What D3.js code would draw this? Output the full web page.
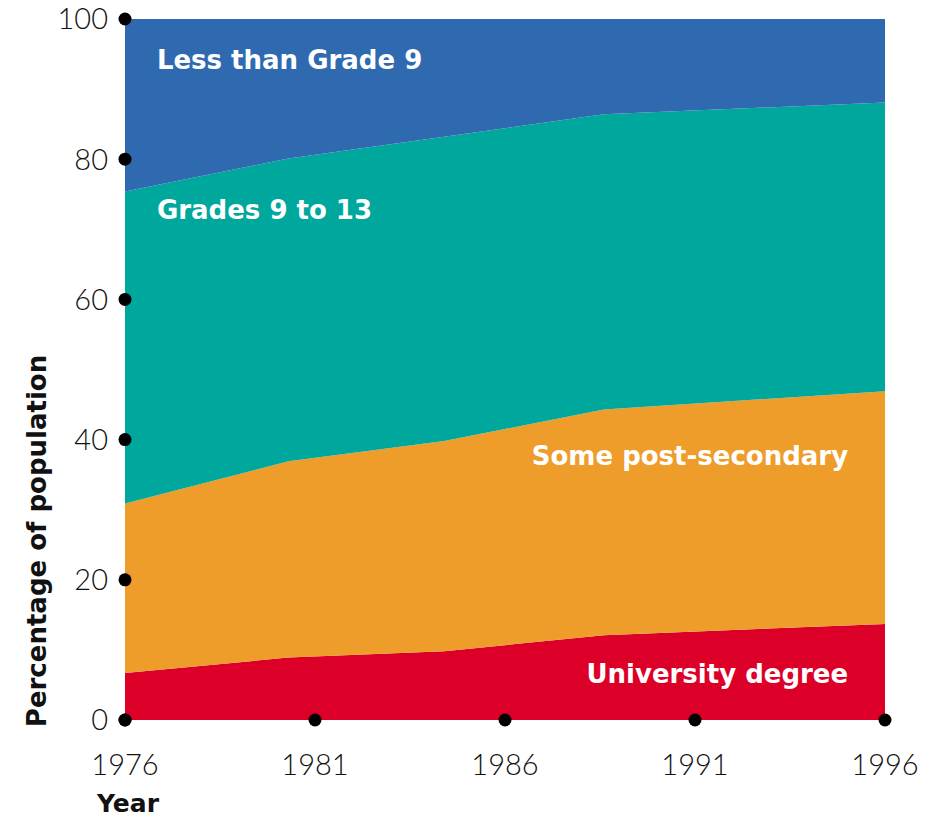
<!DOCTYPE html>
<html>
<head>
<meta charset="utf-8">
<script src="https://cdn.jsdelivr.net/npm/d3@7"></script>
<style>
  body { margin: 0; background: #fff; }
  .tick-label { font-family: Lato, "Open Sans", sans-serif; font-weight: 300; font-size: 29px; fill: #111; }
  .axis-title { font-family: "DejaVu Sans", sans-serif; font-weight: bold; font-size: 25px; fill: #111; }
  .area-label { font-family: "DejaVu Sans", sans-serif; font-weight: bold; font-size: 26px; fill: #fff; }
</style>
</head>
<body>
<svg id="chart" width="932" height="818"></svg>
<script>
// years at which the boundaries bend
const years = [1976, 1980.3, 1984.4, 1988.6, 1996];
const university = [6.7, 8.9, 9.8, 12.1, 13.7];
const somePostSecondary = [24.2, 28.0, 30.0, 32.2, 33.2];
const grades9to13 = [44.5, 43.2, 43.4, 42.1, 41.2];
const lessThanGrade9 = [24.6, 19.9, 16.8, 13.6, 11.9];

const seriesKeys = ["university", "post", "grades", "less"];
const seriesNames = ["University degree", "Some post-secondary", "Grades 9 to 13", "Less than Grade 9"];
const seriesColors = ["#dc0028", "#ee9c2a", "#00a79d", "#2f6ab0"];

const xTicks = [1976, 1981, 1986, 1991, 1996];
const yTicks = [0, 20, 40, 60, 80, 100];

const rows = years.map((yr, i) => ({
  year: yr,
  university: university[i],
  post: somePostSecondary[i],
  grades: grades9to13[i],
  less: lessThanGrade9[i]
}));

const svg = d3.select("#chart");
const margin = {left: 125, right: 47, top: 19, bottom: 98};
const width = 932 - margin.left - margin.right;
const height = 818 - margin.top - margin.bottom;

const x = d3.scaleLinear().domain([1976, 1996]).range([0, width]);
const y = d3.scaleLinear().domain([0, 100]).range([height, 0]);

const g = svg.append("g").attr("transform", `translate(${margin.left},${margin.top})`);

const stacked = d3.stack().keys(seriesKeys)(rows);

const area = d3.area()
  .x(d => x(d.data.year))
  .y0(d => y(d[0]))
  .y1(d => y(d[1]));

g.selectAll("path.layer")
  .data(stacked)
  .enter()
  .append("path")
  .classed("layer", true)
  .attr("fill", (d, i) => seriesColors[i])
  .attr("d", area);

// labels inside the areas
const labels = [
  {text: seriesNames[3], x: 1976.84, y: 92.9, anchor: "start"},
  {text: seriesNames[2], x: 1976.84, y: 71.5, anchor: "start"},
  {text: seriesNames[1], x: 1995.03, y: 36.4, anchor: "end"},
  {text: seriesNames[0], x: 1995.03, y: 5.3, anchor: "end"}
];
g.selectAll("text.area-label")
  .data(labels)
  .enter()
  .append("text")
  .classed("area-label", true)
  .attr("x", d => x(d.x))
  .attr("y", d => y(d.y))
  .attr("text-anchor", d => d.anchor)
  .text(d => d.text);

// y axis: dots + labels
const yAxis = g.append("g");
yAxis.selectAll("circle")
  .data(yTicks)
  .enter()
  .append("circle")
  .attr("cx", 0)
  .attr("cy", d => y(d))
  .attr("r", 6.5)
  .attr("fill", "#000");
yAxis.selectAll("text")
  .data(yTicks)
  .enter()
  .append("text")
  .classed("tick-label", true)
  .attr("x", -17)
  .attr("y", d => y(d))
  .attr("dy", "0.36em")
  .attr("text-anchor", "end")
  .text(d => d);

// x axis: dots + labels
const xAxis = g.append("g").attr("transform", `translate(0,${height})`);
xAxis.selectAll("circle")
  .data(xTicks)
  .enter()
  .append("circle")
  .attr("cx", d => x(d))
  .attr("cy", 0)
  .attr("r", 6.5)
  .attr("fill", "#000");
xAxis.selectAll("text")
  .data(xTicks)
  .enter()
  .append("text")
  .classed("tick-label", true)
  .attr("x", d => x(d))
  .attr("y", 55)
  .attr("text-anchor", "middle")
  .text(d => d);

svg.append("text")
  .classed("axis-title", true)
  .attr("x", 97)
  .attr("y", 812)
  .text("Year");

svg.append("text")
  .classed("axis-title", true)
  .style("font-size", "26px")
  .attr("transform", "translate(46,541) rotate(-90)")
  .attr("text-anchor", "middle")
  .text("Percentage of population");
</script>
</body>
</html>
